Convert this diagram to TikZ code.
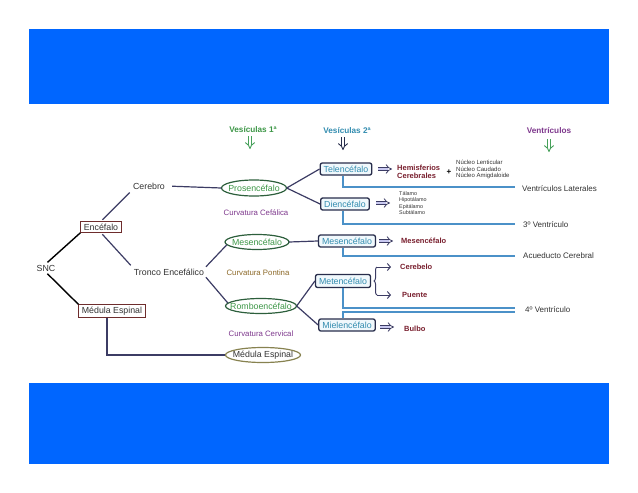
\documentclass[tikz,border=0pt]{standalone}
\usepackage{fontspec}
\setmainfont{Liberation Sans}
\usetikzlibrary{shapes.geometric,arrows.meta,decorations.pathreplacing}
\definecolor{barblue}{RGB}{0,102,255}
\definecolor{slate}{RGB}{60,60,100}
\definecolor{boxred}{RGB}{110,45,45}
\definecolor{navy}{RGB}{40,45,75}
\definecolor{teal}{RGB}{50,140,175}
\definecolor{boxfill}{RGB}{240,248,252}
\definecolor{ellgreen}{RGB}{45,95,60}
\definecolor{txtgreen}{RGB}{60,150,70}
\definecolor{olive}{RGB}{135,130,80}
\definecolor{maroon}{RGB}{120,30,45}
\definecolor{purp}{RGB}{125,55,140}
\definecolor{brownish}{RGB}{140,105,40}
\definecolor{ventblue}{RGB}{75,145,200}
\definecolor{arrfill}{RGB}{200,200,240}
\definecolor{arrgreen}{RGB}{70,160,90}
\definecolor{darktxt}{RGB}{50,50,50}
\newcommand{\fs}[1]{\fontsize{#1}{#1}\selectfont}
\newcommand{\fsb}[2]{\fontsize{#1}{#2}\selectfont}
\begin{document}
\begin{tikzpicture}[x=1pt,y=-1pt,
  txt/.style={font=\fs{8.8}, text=darktxt, inner sep=1pt},
  redbox/.style={draw=boxred, line width=1pt, fill=white, font=\fs{8.8}, text=darktxt, inner xsep=3pt, inner ysep=2pt},
  ell/.style={rectangle, inner sep=0pt, font=\fs{8.8}, text=txtgreen},
  elld/.style={draw=ellgreen, line width=1.2pt},
  vbox/.style={draw=navy, rounded corners=2pt, line width=1.3pt, fill=boxfill, font=\fs{8.8}, text=teal, inner xsep=3.5pt, inner ysep=2pt, minimum height=12pt},
  conn/.style={draw=slate, line width=1.2pt},
  blk/.style={draw=black, line width=1.4pt},
  vline/.style={draw=ventblue, line width=1.3pt},
  imp/.style={draw=slate, line width=0.8pt, double=arrfill, double distance=2.4pt, -{Implies}},
  impv/.style={line width=0.9pt, double=white, double distance=2.6pt, -{Implies}},
  chev/.style={conn, line width=1pt, -{Straight Barb[length=3pt,width=7pt]}},
  curv/.style={font=\fs{7.8}, inner sep=0pt},
  res/.style={font=\bfseries\fs{7.5}, text=maroon, anchor=west, inner sep=0pt},
  vtxt/.style={font=\fs{8}, text=darktxt, anchor=west, inner sep=0pt}
]
\useasboundingbox (0,0) rectangle (638,493);
\fill[barblue] (29,29) rectangle (609,104);
\fill[barblue] (29,383) rectangle (609,464);

% headers
\node[font=\bfseries\fs{8.2}, text=txtgreen] (h1) at (253,130) {Vesículas 1ª};
\node[font=\bfseries\fs{8.2}, text=teal] (h2) at (347,131) {Vesículas 2ª};
\node[font=\bfseries\fs{8.2}, text=purp] (h3) at (549,131) {Ventrículos};
\coordinate (a1s) at (250,136); \coordinate (a1e) at (250,149);
\coordinate (a2s) at (343,137); \coordinate (a2e) at (343,150);
\coordinate (a3s) at (549,139); \coordinate (a3e) at (549,152);
\draw[impv, draw=arrgreen] (a1s) -- (a1e);
\draw[impv, draw=navy] (a2s) -- (a2e);
\draw[impv, draw=arrgreen] (a3s) -- (a3e);

% left part
\node[txt] (snc) at (46,268) {SNC};
\node[redbox] (enc) at (101,227) {Encéfalo};
\node[redbox] (med) at (112,311) {Médula Espinal};
\node[txt] (cer) at (149,186) {Cerebro};
\node[txt] (tro) at (169,272) {Tronco Encefálico};

% vesiculas 1
\node[ell, minimum width=65pt, minimum height=16pt] (pros) at (254,188) {Prosencéfalo};
\draw[elld] (pros.center) ellipse [x radius=32.5, y radius=8];
\node[ell, minimum width=64pt, minimum height=15pt] (mes1) at (257,242) {Mesencéfalo};
\draw[elld] (mes1.center) ellipse [x radius=32, y radius=7.5];
\node[ell, minimum width=71pt, minimum height=15pt] (romb) at (261,306) {Romboencéfalo};
\draw[elld] (romb.center) ellipse [x radius=35.5, y radius=7.5];
\node[ell, text=darktxt, minimum width=75pt, minimum height=15pt] (medE) at (263,355) {Médula Espinal};
\draw[elld, draw=olive] (medE.center) ellipse [x radius=37.5, y radius=7.5];
\node[curv, text=purp] (c1) at (256,213) {Curvatura Cefálica};
\node[curv, text=brownish] (c2) at (258,273) {Curvatura Pontina};
\node[curv, text=purp] (c3) at (261,334) {Curvatura Cervical};

% vesiculas 2
\node[vbox] (tel) at (346,169) {Telencéfalo};
\node[vbox] (die) at (345,204) {Diencéfalo};
\node[vbox] (mes2) at (347,241) {Mesencéfalo};
\node[vbox, minimum height=13pt] (met) at (343,281) {Metencéfalo};
\node[vbox] (miel) at (347,325) {Mielencéfalo};

% connectors
\draw[blk, shorten <=2pt] (snc.north) -- (enc.south west);
\draw[blk, shorten <=2pt] (snc.south) -- (med.north west);
\draw[conn, shorten <=2pt, shorten >=3pt] (enc.north) -- (cer.south west);
\draw[conn, shorten <=2pt, shorten >=3pt] (enc.south) -- (tro.north west);
\draw[conn, shorten <=6pt] (cer.east) -- (pros.west);
\draw[conn, shorten <=1pt] (tro.north east) -- ([xshift=-30pt,yshift=-2.6pt]mes1.center);
\draw[conn, shorten <=1pt] (tro.south east) -- ([xshift=-33pt,yshift=2.8pt]romb.center);
\draw[conn] ([xshift=-5pt]med.south) |- (medE.west);
\draw[conn] (pros.east) -- (tel.west);
\draw[conn] (pros.east) -- (die.west);
\draw[conn] (mes1.east) -- (mes2.west);
\draw[conn] (romb.east) -- (met.west);
\draw[conn] (romb.east) -- (miel.west);

% results
\coordinate (t1) at (378,169); \coordinate (t2) at (392,169);
\coordinate (d1) at (376,203); \coordinate (d2) at (390,203);
\coordinate (m1) at (379,241); \coordinate (m2) at (393,241);
\coordinate (b1) at (380,327); \coordinate (b2) at (394,327);
\draw[imp] (t1) -- (t2);
\draw[imp] (d1) -- (d2);
\draw[imp] (m1) -- (m2);
\draw[imp] (b1) -- (b2);

\node[res, align=left, font=\bfseries\fsb{7.5}{8.5}] (hem) at (397,172) {Hemisferios\\Cerebrales};
\node[font=\bfseries\fs{8}, text=black, inner sep=0pt] (plus) at (449,172) {+};
\node[anchor=west, align=left, inner sep=0pt, text=darktxt, font=\fsb{6}{6.6}] (nuc) at (456,169.5) {Núcleo Lenticular\\Núcleo Caudado\\Núcleo Amigdaloide};
\node[anchor=west, align=left, inner sep=0pt, text=darktxt, font=\fsb{5.4}{6.6}] (tal) at (399,203) {Tálamo\\Hipotálamo\\Epitálamo\\Subtálamo};
\node[res] (mesr) at (401,241) {Mesencéfalo};
\node[res] (cbl) at (400,267) {Cerebelo};
\node[res] (pue) at (402,295) {Puente};
\node[res] (bul) at (404,329) {Bulbo};

% brace from metencefalo
\coordinate (br1) at (377,267); \coordinate (br2) at (377,295);
\coordinate (ch1) at (391,267); \coordinate (ch2) at (391,295);
\draw[conn, line width=1pt, decorate, decoration={brace, amplitude=3pt}] (br2) -- (br1);
\draw[chev] (br1) -- (ch1);
\draw[chev] (br2) -- (ch2);

% ventricle lines
\coordinate (e1) at (515,187); \coordinate (e2) at (515,224);
\coordinate (e3) at (515,256); \coordinate (e4) at (515,308);
\coordinate (e5) at (515,312);
\draw[vline] ([xshift=-3pt]tel.south) |- (e1);
\draw[vline] ([xshift=-2pt]die.south) |- (e2);
\draw[vline] ([xshift=-4pt]mes2.south) |- (e3);
\draw[vline] (met.south) |- (e4);
\draw[vline] ([xshift=-4pt]miel.north) |- (e5);
\node[vtxt] (vl) at (522,189) {Ventrículos Laterales};
\node[vtxt] (v3) at (523,225) {3º Ventrículo};
\node[vtxt] (ac) at (523,256) {Acueducto Cerebral};
\node[vtxt] (v4) at (525,310) {4º Ventrículo};
\end{tikzpicture}
\end{document}
